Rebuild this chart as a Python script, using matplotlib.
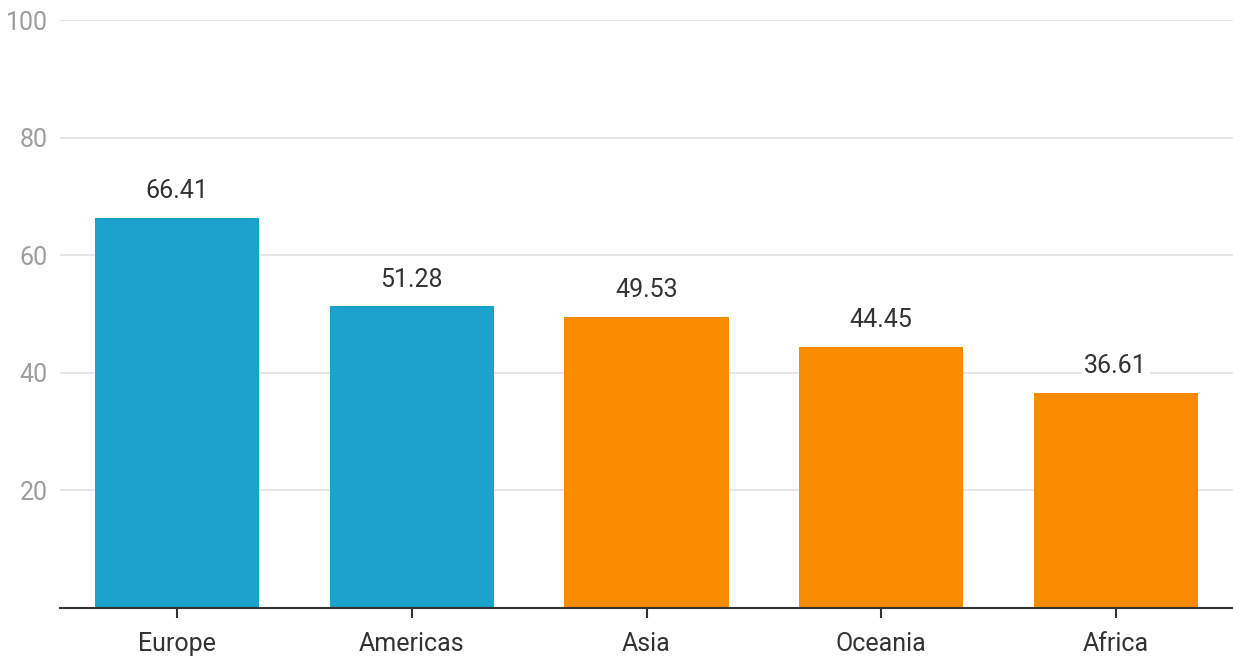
import matplotlib
matplotlib.use("Agg")
import matplotlib.pyplot as plt

plt.rcParams['font.family'] = ['Roboto', 'DejaVu Sans']

# --- Data ---
regions = ["Europe", "Americas", "Asia", "Oceania", "Africa"]
values = [66.41, 51.28, 49.53, 44.45, 36.61]
bar_colors = ["#1aa1cc", "#1aa1cc", "#f98b00", "#f98b00", "#f98b00"]
y_ticks = [20, 40, 60, 80, 100]

fig = plt.figure(figsize=(12.33, 6.58), dpi=100)
ax = fig.add_axes([60 / 1233, 50 / 658, 1 - 60 / 1233, 1 - 70 / 658])

x = range(len(regions))
ax.bar(x, values, width=0.70, color=bar_colors, zorder=2)

# value labels with white background (covers gridlines)
for xi, v in zip(x, values):
    ax.annotate(f"{v:.2f}", (xi, v), xytext=(0, 19), textcoords="offset points",
                ha="center", va="center", fontsize=18, color="#333333", zorder=3,
                bbox=dict(boxstyle="square,pad=0.1", facecolor="white", edgecolor="none"))

ax.set_xlim(-0.5, len(regions) - 0.5)
ax.set_ylim(0, 100)
ax.set_yticks(y_ticks)
ax.set_xticks(list(x))
ax.set_xticklabels(regions)

ax.grid(axis="y", color="#e2e2e2", linewidth=1.2, zorder=0)
ax.set_axisbelow(True)

for side in ["top", "right", "left"]:
    ax.spines[side].set_visible(False)
ax.spines["bottom"].set_color("#333333")
ax.spines["bottom"].set_linewidth(1.5)
ax.spines["bottom"].set_zorder(4)

ax.tick_params(axis="y", length=0, pad=9, labelsize=18, labelcolor="#9e9e9e")
ax.tick_params(axis="x", length=7, width=1.5, color="#333333", pad=10,
               labelsize=18, labelcolor="#333333")

fig.savefig("out.png", dpi=100)
